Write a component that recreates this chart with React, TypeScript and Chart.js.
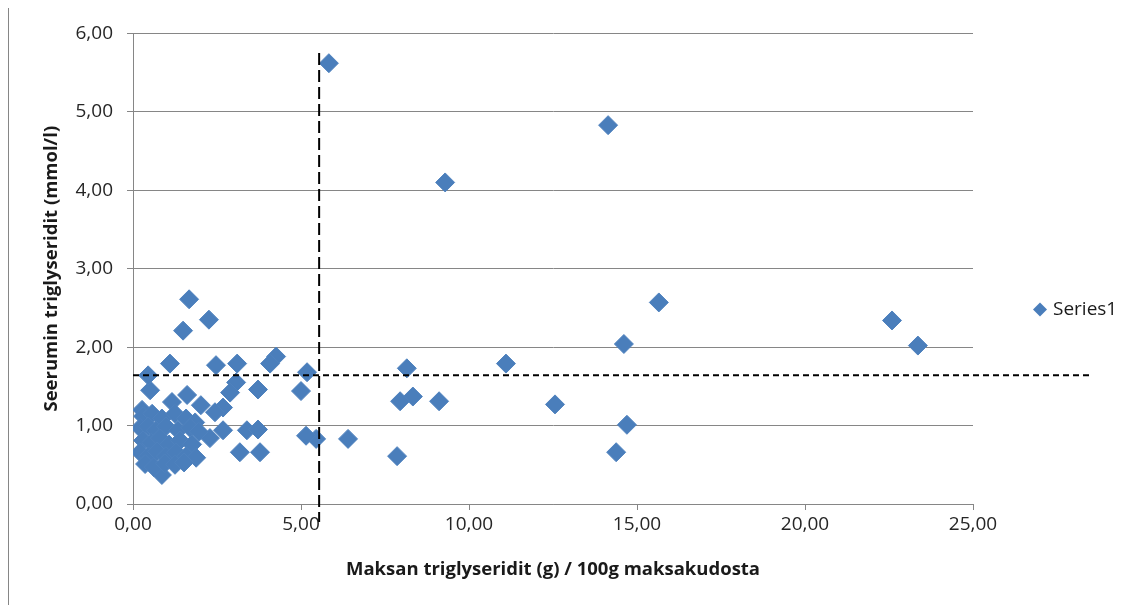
import { useEffect, useRef } from 'react';
import { Chart, registerables } from 'chart.js';

Chart.register(...registerables);

// Liver triglycerides (g / 100 g liver tissue)
const liverTg = [
  5.83, 14.14, 9.29, 15.65, 22.59, 23.36, 14.61, 11.10, 8.15, 8.33,
  7.95, 9.11, 12.56, 14.70, 14.38, 7.86, 6.40, 5.45, 5.15, 5.18,
  5.00, 4.26, 4.08, 3.72, 3.10, 2.47, 3.07, 2.89, 2.68, 2.44,
  2.02, 1.61, 1.16, 0.27, 0.51, 0.45, 1.10, 1.49, 1.67, 2.26,
  2.68, 2.29, 3.39, 3.72, 3.18, 3.78, 0.86,
  0.30, 0.57, 0.86, 1.25, 1.58, 1.85, 0.21, 0.45, 0.68, 0.98,
  1.34, 1.70, 1.96, 0.30, 0.54, 0.80, 1.07, 1.40, 1.76, 0.21,
  0.45, 0.71, 0.98, 1.28, 1.58, 1.88, 0.36, 0.62, 0.95, 1.25, 1.52,
];

// Serum triglycerides (mmol/l)
const serumTg = [
  5.62, 4.83, 4.10, 2.57, 2.34, 2.02, 2.04, 1.79, 1.73, 1.37,
  1.31, 1.31, 1.27, 1.01, 0.66, 0.61, 0.83, 0.83, 0.87, 1.68,
  1.44, 1.88, 1.79, 1.46, 1.79, 1.77, 1.55, 1.42, 1.23, 1.17,
  1.26, 1.39, 1.30, 1.20, 1.45, 1.64, 1.79, 2.21, 2.61, 2.35,
  0.94, 0.84, 0.94, 0.95, 0.66, 0.66, 0.37,
  1.12, 1.15, 1.09, 1.15, 1.09, 1.04, 0.97, 0.99, 0.94, 0.99,
  0.94, 0.97, 0.92, 0.81, 0.78, 0.84, 0.76, 0.81, 0.76, 0.66,
  0.61, 0.67, 0.61, 0.66, 0.61, 0.59, 0.51, 0.47, 0.52, 0.50, 0.53,
];

// Reference cut-offs drawn as dashed guide lines
const liverCutoff = 5.54;
const liverCutoffSpan = [5.75, -0.23];
const serumCutoff = 1.64;
const serumCutoffSpan = [0, 28.55];

const seriesName = 'Series1';
const xTitle = 'Maksan triglyseridit (g) / 100g maksakudosta';
const yTitle = 'Seerumin triglyseridit (mmol/l)';

const BLUE = '#4a7ebb';
const GRID = '#868686';
const FONT = "'Open Sans', sans-serif";

const fmt = (v: number) => v.toFixed(2).replace('.', ',');

// Legend entry drawn in the right-hand margin
const legendPlugin = {
  id: 'sideLegend',
  afterDraw(chart: any) {
    const { ctx, chartArea } = chart;
    const cx = chartArea.right + 67;
    const cy = chart.height / 2 + 3;
    ctx.save();
    ctx.fillStyle = BLUE;
    ctx.beginPath();
    ctx.moveTo(cx, cy - 7);
    ctx.lineTo(cx + 7, cy);
    ctx.lineTo(cx, cy + 7);
    ctx.lineTo(cx - 7, cy);
    ctx.closePath();
    ctx.fill();
    ctx.fillStyle = '#1a1a1a';
    ctx.font = `19px ${FONT}`;
    ctx.textBaseline = 'middle';
    ctx.textAlign = 'left';
    ctx.fillText(seriesName, cx + 13, cy);
    ctx.restore();
  },
};

export default function App() {
  const ref = useRef<HTMLCanvasElement | null>(null);

  useEffect(() => {
    if (!ref.current) return;
    const points = liverTg.map((x, i) => ({ x, y: serumTg[i] }));
    const chart = new Chart(ref.current, {
      type: 'scatter',
      data: {
        datasets: [
          {
            type: 'line',
            label: 'liver cutoff',
            data: liverCutoffSpan.map((y) => ({ x: liverCutoff, y })),
            borderColor: '#000',
            borderWidth: 2,
            borderDash: [12, 5],
            pointRadius: 0,
            fill: false,
            clip: false as any,
          } as any,
          {
            type: 'line',
            label: 'serum cutoff',
            data: serumCutoffSpan.map((x) => ({ x, y: serumCutoff })),
            borderColor: '#000',
            borderWidth: 2,
            borderDash: [6, 4],
            pointRadius: 0,
            fill: false,
            clip: false as any,
          } as any,
          {
            label: seriesName,
            data: points,
            pointStyle: 'rectRot',
            pointRadius: 9.5,
            backgroundColor: BLUE,
            borderColor: '#4f82be',
            borderWidth: 1,
          },
        ],
      },
      options: {
        responsive: false,
        animation: false,
        devicePixelRatio: 1,
        layout: { padding: { left: 0, top: 24, right: 161, bottom: 0 } },
        plugins: {
          legend: { display: false },
          tooltip: { enabled: false },
        },
        scales: {
          x: {
            type: 'linear',
            min: 0,
            max: 25,
            afterFit: (s: any) => {
              s.height = 101;
            },
            ticks: {
              stepSize: 5,
              padding: 3,
              color: '#262626',
              font: { family: FONT, size: 19 },
              callback: (v: any) => fmt(Number(v)),
            },
            grid: {
              drawOnChartArea: false,
              drawTicks: true,
              tickLength: 6,
              color: GRID,
            },
            border: { color: GRID, width: 1 },
            title: {
              display: true,
              text: xTitle,
              color: '#1a1a1a',
              font: { family: FONT, size: 18.5, weight: 'bold' },
              padding: { top: 0, bottom: 24 },
            },
          },
          y: {
            type: 'linear',
            min: 0,
            max: 6,
            afterFit: (s: any) => {
              s.width = 124;
            },
            ticks: {
              stepSize: 1,
              padding: 14,
              color: '#262626',
              font: { family: FONT, size: 19 },
              callback: (v: any) => fmt(Number(v)),
            },
            grid: {
              color: GRID,
              tickLength: 6,
            },
            border: { color: GRID, width: 1 },
            title: {
              display: true,
              text: yTitle,
              color: '#1a1a1a',
              font: { family: FONT, size: 18.5, weight: 'bold' },
              padding: { top: 32, bottom: 0 },
            },
          },
        },
      },
      plugins: [legendPlugin],
    });
    return () => chart.destroy();
  }, []);

  return (
    <div
      style={{
        position: 'relative',
        marginTop: -1,
        width: 1126,
        height: 598,
        borderLeft: `1px solid ${GRID}`,
        borderTop: `1px solid ${GRID}`,
        background: '#fff',
      }}
    >
      <canvas ref={ref} width={1125} height={597} style={{ display: 'block' }} />
    </div>
  );
}
